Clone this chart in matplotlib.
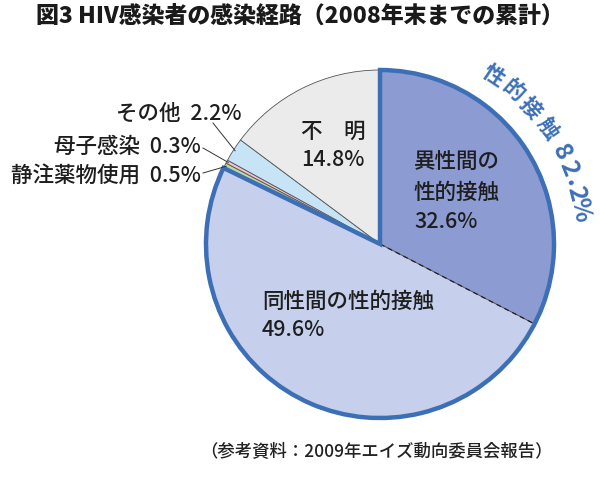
import numpy as np
import matplotlib.pyplot as plt
from matplotlib.patches import Wedge

plt.rcParams['font.family'] = ['Noto Sans CJK JP', 'DejaVu Sans']

# data (clockwise from 12 o'clock)
labels = ['異性間の性的接触', '同性間の性的接触', '静注薬物使用', '母子感染', 'その他', '不明']
values = [32.6, 49.6, 0.5, 0.3, 2.2, 14.8]
colors = ['#8d9bd3', '#c6d0ec', '#b9da9f', '#f4bfd0', '#c7e4f7', '#ebebeb']
sexual_total = 82.2

W, H = 600, 492
fig = plt.figure(figsize=(6, 4.92), dpi=100)

# axes placed so that the pie centre sits at (380, 244) px, radius 174 px
R_PX = 174
CX, CY = 380, 244
half = 1.3 * R_PX
ax = fig.add_axes([(CX - half) / W, (H - CY - half) / H, 2 * half / W, 2 * half / H])

wedges, _ = ax.pie(values, colors=colors, startangle=90, counterclock=False,
                   wedgeprops=dict(edgecolor='#555555', linewidth=0.6))
ax.set_xlim(-1.3, 1.3)
ax.set_ylim(-1.3, 1.3)
ax.set_aspect('equal')
ax.axis('off')

# thick blue outline around the sexual-contact part
end_ang = 90 - sexual_total / 100 * 360
ax.add_patch(Wedge((0, 0), 1, end_ang + 360, 90 + 360, facecolor='none',
                   edgecolor='#3d6fb6', linewidth=3.2, zorder=5))

# dashed divider between the two sexual-contact slices
a = np.deg2rad(90 - values[0] / 100 * 360)
ax.plot([0, np.cos(a)], [0, np.sin(a)], color='#222222', linestyle=(0, (4, 3)),
        linewidth=0.9, zorder=4)


def px(x, y):
    return ((x - CX) / R_PX, (CY - y) / R_PX)


fs = 15.5
txt = dict(fontsize=fs, color='#1e1e1e', fontweight='medium')
ax.text(*px(414, 163), '異性間の', ha='left', va='center', **txt)
ax.text(*px(414, 193), '性的接触', ha='left', va='center', **txt)
ax.text(*px(414, 222), '32.6%', ha='left', va='center', **txt)

ax.text(*px(301, 132), '不　明', ha='left', va='center', **txt)
ax.text(*px(301, 160), '14.8%', ha='left', va='center', **txt)

ax.text(*px(262, 302), '同性間の性的接触', ha='left', va='center', **txt)
ax.text(*px(262, 330), '49.6%', ha='left', va='center', **txt)

# outside labels with leader lines
cum = np.cumsum([0] + values)
outside = {2: (201, 177), 3: (201, 147), 4: (241, 114)}
starts = {2: (203, 173), 3: (203, 148), 4: (213, 123)}
for i, (lx, ly) in outside.items():
    mid = np.deg2rad(90 - (cum[i] + values[i] / 2) / 100 * 360)
    ax.text(*px(lx, ly), f'{labels[i]}  {values[i]}%', ha='right', va='center', **txt)
    sx, sy = px(*starts[i])
    ax.plot([sx, 0.99 * np.cos(mid)], [sy, 0.99 * np.sin(mid)], color='#333333',
            linewidth=0.7, zorder=6)

# curved label along the arc
arc_chars = ['性', '的', '接', '触', '8', '2', '.', '2', '%']
arc_angles = [56.1, 49.0, 42.2, 34.5, 26.8, 21.8, 18.0, 14.6, 9.8]
for ch, ang in zip(arc_chars, arc_angles):
    t = np.deg2rad(ang)
    ax.text(1.165 * np.cos(t), 1.165 * np.sin(t), ch, rotation=ang - 90,
            rotation_mode='anchor', ha='center', va='center',
            fontsize=18 if ch.isascii() else 15.5,
            fontweight='bold', color='#3d6fb6')

fig.text(0.5, 1 - 17 / H, '図3 HIV感染者の感染経路（2008年末までの累計）', ha='center',
         va='center', fontsize=16.5, fontweight='heavy', color='#1a1a1a')
fig.text(200 / W, 1 - 452 / H, '（参考資料：2009年エイズ動向委員会報告）', ha='left',
         va='center', fontsize=12.5, fontweight='medium', color='#222222')

fig.savefig('out.png', dpi=100)
